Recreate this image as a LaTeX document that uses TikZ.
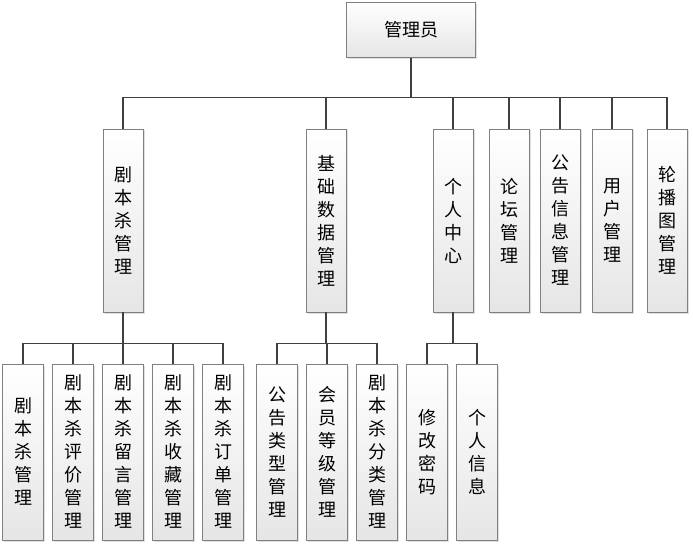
\documentclass[tikz,border=0pt]{standalone}
\usepackage{fontspec}
\setmainfont{Noto Sans CJK SC}
\usepackage{tikz}
\usetikzlibrary{positioning, shadows}
\tikzstyle{module}=[rectangle, draw=black!50, top color=white, bottom color=black!10, drop shadow={shadow xshift=1.5pt, shadow yshift=-1.5pt, fill=black!25}, align=center, inner sep=0pt, font=\fontsize{18}{23}\selectfont]
\tikzstyle{topbox}=[module, minimum width=129pt, minimum height=55pt]
\tikzstyle{midbox}=[module, minimum width=40pt, minimum height=183pt]
\tikzstyle{leafbox}=[module, minimum width=41pt, minimum height=176pt]
\tikzstyle{wire}=[draw=black!75, line width=1.2pt]

\begin{document}
\begin{tikzpicture}[x=1pt, y=-1pt, node distance=50pt]
    \useasboundingbox (0,0) rectangle (693,545);

    \node[topbox] (admin) at (411,30) {管理员};

    \node[midbox] (jbs) at (123,220.5) {剧\\本\\杀\\管\\理};
    \node[midbox] (jcsj) [right of=jbs, xshift=153pt] {基\\础\\数\\据\\管\\理};
    \node[midbox] (grzx) [right of=jcsj, xshift=77pt] {个\\人\\中\\心};
    \node[midbox] (lt) [right of=grzx, xshift=6pt] {论\\坛\\管\\理};
    \node[midbox] (ggxx) [right of=lt, xshift=1pt] {公\\告\\信\\息\\管\\理};
    \node[midbox] (yh) [right of=ggxx, xshift=2pt] {用\\户\\管\\理};
    \node[midbox] (lbt) [right of=yh, xshift=5pt] {轮\\播\\图\\管\\理};

    \node[leafbox] (jbsgl) at (23,452) {剧\\本\\杀\\管\\理};
    \node[leafbox] (pjgl) [right of=jbsgl] {剧\\本\\杀\\评\\价\\管\\理};
    \node[leafbox] (lygl) [right of=pjgl] {剧\\本\\杀\\留\\言\\管\\理};
    \node[leafbox] (scgl) [right of=lygl] {剧\\本\\杀\\收\\藏\\管\\理};
    \node[leafbox] (ddgl) [right of=scgl] {剧\\本\\杀\\订\\单\\管\\理};

    \node[leafbox] (gglx) [right of=ddgl, xshift=4pt] {公\\告\\类\\型\\管\\理};
    \node[leafbox] (hydj) [right of=gglx] {会\\员\\等\\级\\管\\理};
    \node[leafbox] (flgl) [right of=hydj] {剧\\本\\杀\\分\\类\\管\\理};

    \node[leafbox] (xgmm) [right of=flgl] {修\\改\\密\\码};
    \node[leafbox] (grxx) [right of=xgmm] {个\\人\\信\\息};

    \coordinate (bus0) at ([yshift=-40pt]admin.south);
    \draw[wire] (admin.south) -- (bus0);
    \foreach \n in {jbs, jcsj, grzx, lt, ggxx, yh, lbt}
        \draw[wire] (bus0) -| (\n.north);

    \coordinate (bus1) at ([yshift=-31pt]jbs.south);
    \draw[wire] (jbs.south) -- (bus1);
    \foreach \n in {jbsgl, pjgl, lygl, scgl, ddgl}
        \draw[wire] (bus1) -| (\n.north);

    \coordinate (bus2) at ([yshift=-31pt]jcsj.south);
    \draw[wire] (jcsj.south) -- (bus2);
    \foreach \n in {gglx, hydj, flgl}
        \draw[wire] (bus2) -| (\n.north);

    \coordinate (bus3) at ([yshift=-31pt]grzx.south);
    \draw[wire] (grzx.south) -- (bus3);
    \foreach \n in {xgmm, grxx}
        \draw[wire] (bus3) -| (\n.north);
\end{tikzpicture}
\end{document}
